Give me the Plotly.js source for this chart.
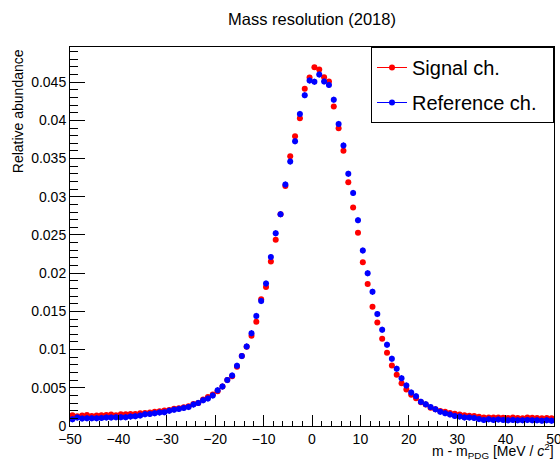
<!DOCTYPE html>
<html>
<head>
<meta charset="utf-8">
<script src="https://cdn.plot.ly/plotly-3.0.1.min.js"></script>
<style>html,body{margin:0;padding:0;background:#fff;}#chart{width:560px;height:463px;}</style>
</head>
<body>
<div id="chart"></div>
<script>
// Bin centres of the mass-difference histogram (MeV/c^2)
const binCenters = [
-49.5,-48.5,-47.5,-46.5,-45.5,-44.5,-43.5,-42.5,-41.5,-40.5,
-39.5,-38.5,-37.5,-36.5,-35.5,-34.5,-33.5,-32.5,-31.5,-30.5,
-29.5,-28.5,-27.5,-26.5,-25.5,-24.5,-23.5,-22.5,-21.5,-20.5,
-19.5,-18.5,-17.5,-16.5,-15.5,-14.5,-13.5,-12.5,-11.5,-10.5,
-9.5,-8.5,-7.5,-6.5,-5.5,-4.5,-3.5,-2.5,-1.5,-0.5,
0.5,1.5,2.5,3.5,4.5,5.5,6.5,7.5,8.5,9.5,
10.5,11.5,12.5,13.5,14.5,15.5,16.5,17.5,18.5,19.5,
20.5,21.5,22.5,23.5,24.5,25.5,26.5,27.5,28.5,29.5,
30.5,31.5,32.5,33.5,34.5,35.5,36.5,37.5,38.5,39.5,
40.5,41.5,42.5,43.5,44.5,45.5,46.5,47.5,48.5,49.5];

const signalValues = [
0.00141,0.00128,0.00137,0.00145,0.00132,0.00137,0.00141,0.00145,0.00150,0.00141,
0.00154,0.00154,0.00158,0.00158,0.00167,0.00171,0.00176,0.00185,0.00193,0.00202,
0.00211,0.00226,0.00232,0.00246,0.00259,0.00289,0.00302,0.00346,0.00381,0.00411,
0.00455,0.00517,0.00601,0.00652,0.00775,0.00915,0.01038,0.01180,0.01365,0.01660,
0.01819,0.02152,0.02436,0.02772,0.03140,0.03530,0.03793,0.04028,0.04412,0.04560,
0.04696,0.04665,0.04565,0.04508,0.04180,0.03896,0.03603,0.03190,0.02860,0.02530,
0.02143,0.01858,0.01562,0.01356,0.01142,0.00959,0.00792,0.00670,0.00560,0.00477,
0.00408,0.00363,0.00310,0.00280,0.00240,0.00220,0.00195,0.00185,0.00170,0.00160,
0.00150,0.00140,0.00135,0.00130,0.00120,0.00112,0.00110,0.00110,0.00112,0.00108,
0.00105,0.00110,0.00105,0.00100,0.00110,0.00108,0.00105,0.00100,0.00105,0.00100];

const referenceValues = [
0.00088,0.00110,0.00097,0.00101,0.00101,0.00101,0.00106,0.00110,0.00110,0.00114,
0.00114,0.00114,0.00123,0.00128,0.00137,0.00154,0.00158,0.00167,0.00176,0.00180,
0.00198,0.00213,0.00224,0.00237,0.00248,0.00280,0.00302,0.00337,0.00359,0.00399,
0.00469,0.00517,0.00601,0.00661,0.00788,0.00915,0.01042,0.01214,0.01441,0.01635,
0.01864,0.02211,0.02523,0.02772,0.03160,0.03460,0.03726,0.04084,0.04330,0.04521,
0.04505,0.04600,0.04510,0.04464,0.04270,0.03953,0.03672,0.03300,0.03050,0.02694,
0.02296,0.01999,0.01756,0.01465,0.01260,0.01063,0.00880,0.00749,0.00626,0.00530,
0.00438,0.00390,0.00316,0.00285,0.00248,0.00218,0.00185,0.00168,0.00152,0.00132,
0.00123,0.00112,0.00110,0.00105,0.00090,0.00080,0.00088,0.00080,0.00085,0.00080,
0.00075,0.00080,0.00075,0.00075,0.00078,0.00075,0.00075,0.00070,0.00075,0.00070];

const seriesNames = ["Signal ch.", "Reference ch."];
const xTickVals = [-50,-40,-30,-20,-10,0,10,20,30,40,50];
const yTickVals = [0,0.005,0.01,0.015,0.02,0.025,0.03,0.035,0.04,0.045];
const yTickText = ["0","0.005","0.01","0.015","0.02","0.025","0.03","0.035","0.04","0.045"];

const FONT = "Liberation Sans, Arial, Helvetica, sans-serif";
const PAD = "\u00a0\u00a0";

const traces = [
  {
    x: binCenters, y: signalValues, type: "scatter", mode: "markers",
    marker: {color: "rgb(255,0,0)", size: 6},
    error_y: {type: "constant", value: 0.00022, color: "rgb(255,0,0)", thickness: 1, width: 0},
    error_x: {type: "constant", value: 0.5, color: "rgb(255,0,0)", thickness: 1, width: 0},
    showlegend: false, hoverinfo: "skip"
  },
  {
    x: binCenters, y: referenceValues, type: "scatter", mode: "markers",
    marker: {color: "rgb(0,0,255)", size: 6},
    error_y: {type: "constant", value: 0.0004, color: "rgb(0,0,255)", thickness: 1, width: 0},
    error_x: {type: "constant", value: 0.5, color: "rgb(0,0,255)", thickness: 1, width: 0},
    showlegend: false, hoverinfo: "skip"
  },
  {
    x: [null], y: [null], type: "scatter", mode: "lines+markers", name: seriesNames[0] + PAD,
    legendgroup: "a",
    line: {color: "rgb(255,0,0)", width: 1}, marker: {color: "rgb(255,0,0)", size: 6}
  },
  {
    x: [null], y: [null], type: "scatter", mode: "lines+markers", name: seriesNames[1] + PAD,
    legendgroup: "b",
    line: {color: "rgb(0,0,255)", width: 1}, marker: {color: "rgb(0,0,255)", size: 6}
  }
];

const layout = {
  width: 560, height: 463,
  margin: {l: 70, r: 6, t: 47, b: 37},
  paper_bgcolor: "#fff", plot_bgcolor: "#fff",
  font: {family: FONT, color: "#000", size: 14},
  title: {text: "Mass resolution (2018)", font: {family: FONT, size: 16.5, color: "#000"},
          x: 0.5, xref: "paper", xanchor: "center", y: 0.958, yanchor: "middle"},
  xaxis: {
    range: [-50, 50], tickmode: "array", tickvals: xTickVals,
    ticks: "inside", ticklen: 11, tickwidth: 1, tickcolor: "#000",
    ticklabeloverflow: "allow",
    minor: {dtick: 2, ticks: "inside", ticklen: 5.5, tickcolor: "#000", tickwidth: 1, showgrid: false},
    showgrid: false, zeroline: false, showline: true, linecolor: "#000", linewidth: 1, mirror: true,
    tickfont: {family: FONT, size: 14, color: "#000"}, fixedrange: true
  },
  yaxis: {
    range: [0, 0.0496], tickmode: "array", tickvals: yTickVals, ticktext: yTickText,
    ticks: "inside", ticklen: 15, tickwidth: 1, tickcolor: "#000",
    ticklabeloverflow: "allow",
    minor: {dtick: 0.001, ticks: "inside", ticklen: 7.5, tickcolor: "#000", tickwidth: 1, showgrid: false},
    showgrid: false, zeroline: false, showline: true, linecolor: "#000", linewidth: 1, mirror: true,
    tickfont: {family: FONT, size: 14, color: "#000"}, fixedrange: true
  },
  legend: {
    x: 1, y: 1, xanchor: "right", yanchor: "top",
    bgcolor: "#fff", bordercolor: "#000", borderwidth: 1,
    font: {family: FONT, size: 20, color: "#000"},
    traceorder: "grouped", tracegroupgap: 6
  },
  annotations: [
    {text: "Relative abundance", textangle: -90, xref: "paper", yref: "paper",
     x: -0.107, y: 1, xanchor: "center", yanchor: "top", showarrow: false,
     font: {family: FONT, size: 14, color: "#000"}},
    {text: "m - m<sub>PDG</sub> [MeV / <i>c</i><sup>2</sup>]", xref: "paper", yref: "paper",
     x: 1.004, y: -0.066, xanchor: "right", yanchor: "middle", showarrow: false,
     font: {family: FONT, size: 14, color: "#000"}}
  ],
  showlegend: true
};

Plotly.newPlot("chart", traces, layout, {staticPlot: true, displayModeBar: false});
</script>
</body>
</html>
